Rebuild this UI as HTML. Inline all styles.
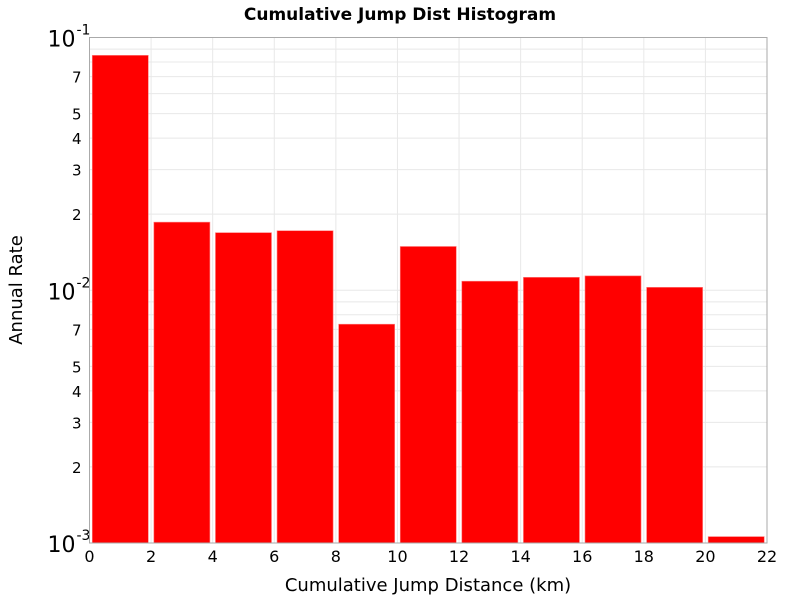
<!DOCTYPE html>
<html><head><meta charset="utf-8"><style>
body{margin:0;background:#fff;font-family:"Liberation Sans","DejaVu Sans",sans-serif}
svg text{font-family:"DejaVu Sans","Liberation Sans",sans-serif}
</style></head><body>
<svg id="chart" width="800" height="600" xmlns="http://www.w3.org/2000/svg">
<rect width="800" height="600" fill="#fff"/>
<text x="400" y="20" text-anchor="middle" font-size="17" font-weight="bold">Cumulative Jump Dist Histogram</text>
<g id="grid"></g><g id="bars"></g><g id="axes"></g>
<text x="428" y="591" text-anchor="middle" font-size="18">Cumulative Jump Distance (km)</text>
<text transform="translate(22,290) rotate(-90)" text-anchor="middle" font-size="18">Annual Rate</text>
</svg>
<script>
const binStarts=[0,2,4,6,8,10,12,14,16,18,20];
const rates=[0.085,0.0186,0.0169,0.0172,0.00734,0.0149,0.01086,0.01125,0.0114,0.01027,0.00106];
const xTicks=[0,2,4,6,8,10,12,14,16,18,20,22];
const minorLabels=[2,3,4,5,7];
const L=89.5,R=767,T=37.5,B=543,xmin=0,xmax=22,lmin=-3,lmax=-1;
const NS='http://www.w3.org/2000/svg';
function X(v){return L+(v-xmin)/(xmax-xmin)*(R-L);}
function Y(v){return B-(Math.log10(v)-lmin)/(lmax-lmin)*(B-T);}
function mk(t,a,p){const e=document.createElementNS(NS,t);for(const k in a)e.setAttribute(k,a[k]);p.appendChild(e);return e;}
const grid=document.getElementById('grid'),bars=document.getElementById('bars'),axes=document.getElementById('axes');
xTicks.forEach(t=>{const l=mk('line',{x1:X(t),x2:X(t),y1:T,y2:B,stroke:'#e8e8e8'},grid);

const tx=mk('text',{x:X(t),y:B+19,'text-anchor':'middle','font-size':'16'},axes);tx.textContent=t;
});
for(let d=-3;d<-1;d++){for(let m=1;m<10;m++){const v=m*Math.pow(10,d);const y=Y(v);
const l=mk('line',{x1:L,x2:R,y1:y,y2:y,stroke:'#e8e8e8'},grid);

if(minorLabels.includes(m)){const tx=mk('text',{x:L-8,y:y+6,'text-anchor':'end','font-size':'15'},axes);tx.textContent=m;
}}}
[-3,-2,-1].forEach(p=>{const y=Y(Math.pow(10,p));const tx=mk('text',{x:L-14,y:y+9,'text-anchor':'end','font-size':'22'},axes);
tx.textContent='10';
const s=mk('text',{x:L-13,y:y-3,'text-anchor':'start','font-size':'14'},axes);s.textContent=String(p);
});
binStarts.forEach((s,i)=>{const x0=X(s+0.09),x1=X(s+1.91),y=Y(rates[i]);
const r=mk('rect',{x:x0,y:y,width:x1-x0,height:B-y,fill:'#ff0000',stroke:'#ff8080','stroke-width':'0.6'},bars);
});
const f=mk('rect',{x:L,y:T,width:R-L,height:B-T,fill:'none',stroke:'#aaa'},axes);

</script>
</body></html>
